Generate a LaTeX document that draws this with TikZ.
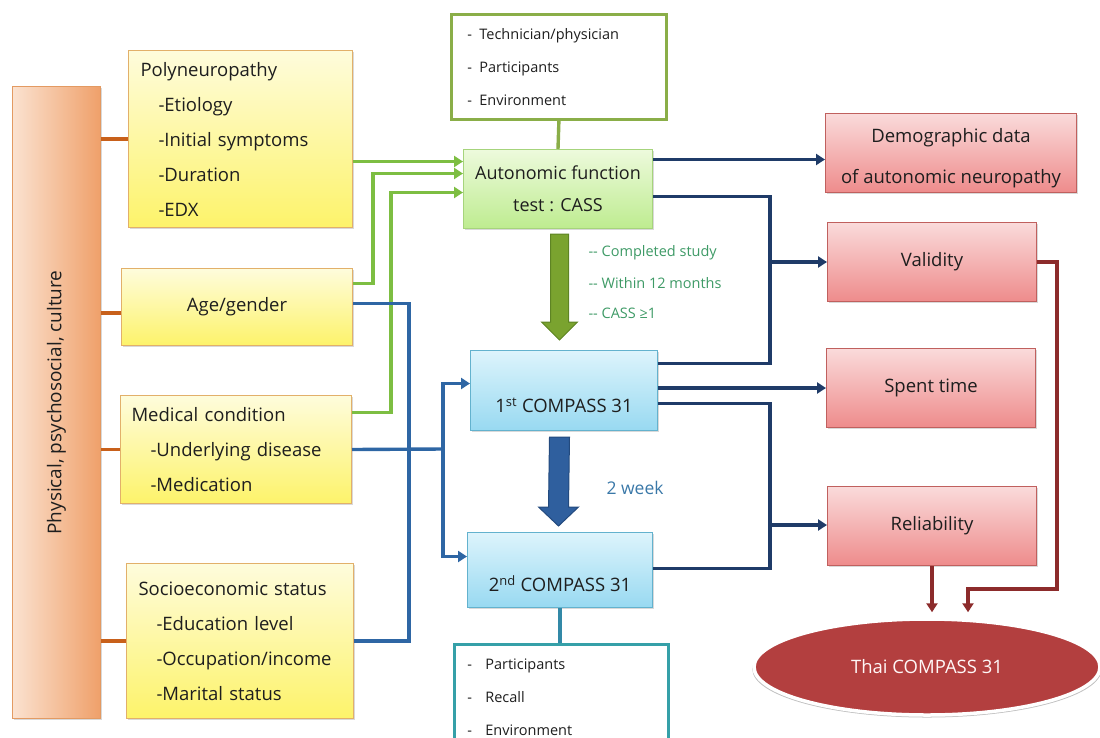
\documentclass[tikz,border=0pt]{standalone}
\usepackage{fontspec}
\setmainfont{Open Sans}
\usetikzlibrary{calc,shadows,shapes.geometric,arrows.meta}
\definecolor{ytop}{HTML}{FEFCDC}
\definecolor{ybot}{HTML}{FDF36A}
\definecolor{yline}{HTML}{E2B06A}
\definecolor{otop}{HTML}{FBE2D0}
\definecolor{obot}{HTML}{EFA06A}
\definecolor{oline}{HTML}{E39A62}
\definecolor{ocon}{HTML}{C8601A}
\definecolor{gtop}{HTML}{EDFADC}
\definecolor{gbot}{HTML}{BEEC90}
\definecolor{gline}{HTML}{A6D47C}
\definecolor{gcon}{HTML}{7DBE42}
\definecolor{olv}{HTML}{8AAE48}
\definecolor{btop}{HTML}{DDF4FC}
\definecolor{bbot}{HTML}{98D9F1}
\definecolor{bline}{HTML}{63B2CE}
\definecolor{rtop}{HTML}{FADADA}
\definecolor{rbot}{HTML}{EE8C8C}
\definecolor{rline}{HTML}{C0605E}
\definecolor{navy}{HTML}{1F3B68}
\definecolor{midblue}{HTML}{2E66A4}
\definecolor{dred}{HTML}{8C2B2B}
\definecolor{tealb}{HTML}{35A0A8}
\definecolor{txtgreen}{HTML}{3E9A66}
\definecolor{txtblue}{HTML}{3A78A8}
\definecolor{ellfill}{HTML}{B33F3F}
\definecolor{bigg}{HTML}{7AA32F}
\definecolor{biggd}{HTML}{5E8424}
\definecolor{bigb}{HTML}{2F5F9E}
\definecolor{bigbd}{HTML}{234A7E}
\definecolor{txt}{HTML}{1E1E1E}
\newcommand\mainfs{\fontsize{18.5}{35}\selectfont}
\newcommand\smallfs{\fontsize{14.5}{33}\selectfont}
\begin{document}
\begin{tikzpicture}[x=1pt,y=-1pt,
  box/.style={anchor=north west, inner sep=0pt, line width=1pt, text=txt},
  shd/.style={drop shadow={opacity=0.3,shadow xshift=1.5pt,shadow yshift=-1.5pt}},
  ybox/.style={box, shd, draw=yline, top color=ytop, bottom color=ybot, font=\mainfs, align=left},
  bluebox/.style={box, shd, draw=bline, top color=btop, bottom color=bbot},
  redbox/.style={box, shd, draw=rline, top color=rtop, bottom color=rbot, font=\mainfs, align=center},
  con/.style={line width=3.4pt},
  tip/.style={-{Triangle[width=11pt,length=9pt]}},
  ocn/.style={con, ocon},
  gcn/.style={con, gcon, tip},
  ncn/.style={con, navy},
  bcn/.style={con, midblue},
  rcn/.style={con, dred, tip}
]
\useasboundingbox (0,0) rectangle (1100,737);

% left bar
\node[box, shd, draw=oline, left color=otop, right color=obot, minimum width=88pt, minimum height=632pt] (lbar) at (12,86) {};
\node[rotate=90, font=\fontsize{19}{22}\selectfont, text=txt] (lbartxt) at (lbar.center) {Physical, psychosocial, culture};

% yellow boxes
\node[ybox, minimum height=177pt, text width=200pt, inner xsep=12pt] (poly) at (128,50)
 {Polyneuropathy\\\hspace*{18pt}-Etiology\\\hspace*{18pt}-Initial symptoms\\\hspace*{18pt}-Duration\\\hspace*{18pt}-EDX};
\node[ybox, minimum width=231pt, minimum height=77pt, align=center] (age) at (121,268) {Age/gender};
\node[ybox, minimum height=108pt, text width=209pt, inner xsep=11pt] (med) at (120,395)
 {Medical condition\\\hspace*{19pt}-Underlying disease\\\hspace*{19pt}-Medication};
\node[ybox, minimum height=155pt, text width=203pt, inner xsep=12pt] (soc) at (126,563)
 {Socioeconomic status\\\hspace*{18pt}-Education level\\\hspace*{18pt}-Occupation/income\\\hspace*{18pt}-Marital status};

% top white box
\node[box, draw=olv, line width=2.8pt, fill=white, minimum height=105pt, text width=183pt, inner xsep=16pt, align=left, font=\smallfs] (tbox) at (450,13)
 {\makebox[12pt][l]{-}Technician/physician\\\makebox[12pt][l]{-}Participants\\\makebox[12pt][l]{-}Environment};

% CASS
\node[box, shd, draw=gline, top color=gtop, bottom color=gbot, minimum width=189pt, minimum height=79pt, align=center, font=\fontsize{18}{32}\selectfont] (cass) at (463,149)
 {Autonomic function\\test : CASS};

% COMPASS boxes
\node[bluebox, minimum width=187pt, minimum height=80pt] (c1) at (470,350) {};
\node[font=\mainfs, text=txt] (c1t) at ([yshift=-15pt]c1.center) {1\textsuperscript{st} COMPASS 31};
\node[bluebox, minimum width=185pt, minimum height=75pt] (c2) at (467,532) {};
\node[font=\mainfs, text=txt] (c2t) at ([yshift=-13.5pt]c2.center) {2\textsuperscript{nd} COMPASS 31};

% bottom white box
\node[box, draw=tealb, line width=2.8pt, fill=white, minimum height=105pt, text width=188pt, inner xsep=13pt, align=left, font=\smallfs] (bbox) at (453,643)
 {\makebox[18pt][l]{-}Participants\\\makebox[18pt][l]{-}Recall\\\makebox[18pt][l]{-}Environment};

% red boxes
\node[redbox, minimum width=251pt, minimum height=79pt, font=\fontsize{18.5}{41}\selectfont] (demo) at (825,113) {\rule{0pt}{25pt}Demographic data\\of autonomic neuropathy};
\node[redbox, minimum width=209pt, minimum height=79pt] (valid) at (827,222) {Validity};
\node[redbox, minimum width=209pt, minimum height=79pt] (spent) at (826,348) {Spent time};
\node[redbox, minimum width=209pt, minimum height=79pt] (rel) at (827,486) {Reliability};

% ellipse
\node[ellipse, draw=white, line width=3.5pt, fill=ellfill, minimum width=346pt, minimum height=96pt,
  drop shadow={opacity=0.5,shadow xshift=0pt,shadow yshift=-2pt,shadow scale=1.01}, text=white!88!pink, font=\mainfs] (thai) at (927,667) {Thai COMPASS 31};

% notes
\node[anchor=west, font=\fontsize{14.5}{18}\selectfont, text=txtgreen] (n1) at (585,253) {-{}- Completed study};
\node[anchor=west, font=\fontsize{14.5}{18}\selectfont, text=txtgreen] (n2) at (585,283) {-{}- Within 12 months};
\node[anchor=west, font=\fontsize{14.5}{18}\selectfont, text=txtgreen] (n3) at (585,313) {-{}- CASS ≥1};
\node[anchor=west, font=\fontsize{17.5}{20}\selectfont, text=txtblue] (wk) at (603,488) {2 week};

% helper coordinates
\coordinate (g1) at ([yshift=27.5pt]cass.west);
\coordinate (g2) at ([yshift=15.5pt]cass.west);
\coordinate (g3) at ([yshift=-3.5pt]cass.west);
\coordinate (j1) at (770,262);
\coordinate (j2) at (770,525);
\coordinate (j3) at (409,449);
\coordinate (j4) at (443,449);
\coordinate (j5) at (1057,589);
\coordinate (t2) at ([xshift=41pt,yshift=5pt]thai.north);

% orange connectors
\draw[ocn] (poly.west) -- (poly.west -| lbar.east);
\draw[ocn] ([yshift=-6pt]age.west) -- ([yshift=-6pt]age.west -| lbar.east);
\draw[ocn] (med.west) -- (med.west -| lbar.east);
\draw[ocn] (soc.west) -- (soc.west -| lbar.east);

% green connectors
\draw[gcn] (g1 -| poly.east) -- (g1);
\draw[gcn] ([yshift=23.5pt]age.east) -- ++(20,0) |- (g2);
\draw[gcn] ([yshift=37pt]med.east) -- ++(39,0) |- (g3);
\draw[con, olv] (tbox.south) -- (cass.north);

% blue left connectors
\draw[bcn] ([yshift=3.5pt]age.east) -| (j3) |- (soc.east);
\draw[bcn] (med.east) -- (j4);
\draw[bcn, tip] (j4) |- ([yshift=7pt]c1.west);
\draw[bcn, tip] (j4) |- ([yshift=13.5pt]c2.west);
\draw[con, tealb!60!midblue] (c2.south) -- (bbox.north -| c2.south);

% navy right connectors
\draw[ncn, tip] ([yshift=29.5pt]cass.east) -- ([yshift=29.5pt]cass.east -| demo.west);
\draw[ncn] ([yshift=-7.5pt]cass.east) -| (j1) |- ([yshift=27pt]c1.east);
\draw[ncn, tip] (j1) -- (j1 -| valid.west);
\draw[ncn, tip] (c1.east |- spent.west) -- (spent.west);
\draw[ncn] ([yshift=-13pt]c1.east) -| (j2) |- ([yshift=1.5pt]c2.east);
\draw[ncn, tip] (j2) -- (j2 -| rel.west);

% dark red
\draw[rcn] (valid.east) -| (j5) -| (t2);
\draw[rcn] (rel.south) -- (rel.south |- t2);

% big arrows
\coordinate (ga1) at ($(cass.south)+(1.5,5)$);
\coordinate (ga2) at ($(c1.north)+(-4.5,-10)$);
\filldraw[fill=bigg, draw=biggd, line width=1pt] ($(ga1)+(-9,0)$) -- ($(ga1)+(9,0)$) -- ($(ga2)+(9,-18)$) -- ($(ga2)+(18,-18)$) -- (ga2) -- ($(ga2)+(-18,-18)$) -- ($(ga2)+(-9,-18)$) -- cycle;
\coordinate (ba1) at ($(c1.south)+(-4.5,6)$);
\coordinate (ba2) at ($(c2.north)+(-1.5,-6)$);
\filldraw[fill=bigb, draw=bigbd, line width=1pt] ($(ba1)+(-10,0)$) -- ($(ba1)+(10,0)$) -- ($(ba2)+(10,-19)$) -- ($(ba2)+(20,-19)$) -- (ba2) -- ($(ba2)+(-20,-19)$) -- ($(ba2)+(-10,-19)$) -- cycle;
\end{tikzpicture}
\end{document}
